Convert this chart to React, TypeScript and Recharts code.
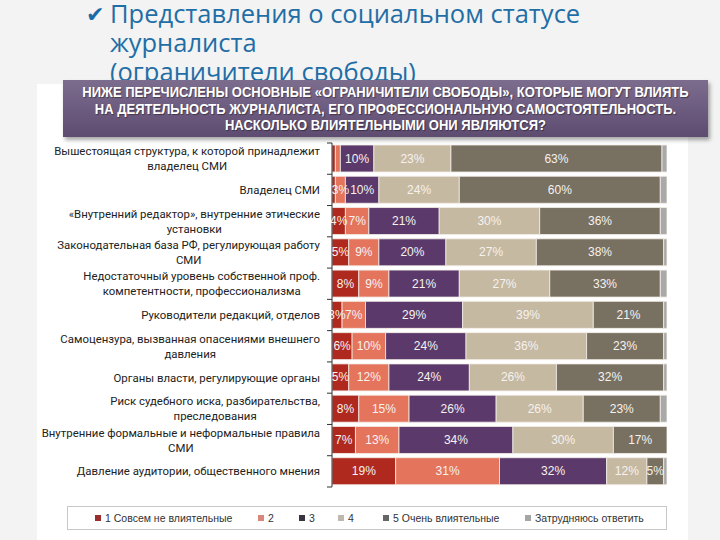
import React from 'react';
import { BarChart, Bar, XAxis, YAxis, LabelList, Legend } from 'recharts';

// Factors (y categories), two-line labels split with \n
const categories = [
  'Вышестоящая структура, к которой принадлежит\nвладелец СМИ',
  'Владелец СМИ',
  '«Внутренний редактор», внутренние этические\nустановки',
  'Законодательная база РФ, регулирующая работу\nСМИ',
  'Недостаточный уровень собственной проф.\nкомпетентности, профессионализма',
  'Руководители редакций, отделов',
  'Самоцензура, вызванная опасениями внешнего\nдавления',
  'Органы власти, регулирующие органы',
  'Риск судебного иска, разбирательства,\nпреследования',
  'Внутренние формальные и неформальные правила\nСМИ',
  'Давление аудитории, общественного мнения',
];

const seriesNames = [
  '1 Совсем не влиятельные',
  '2',
  '3',
  '4',
  '5 Очень влиятельные',
  'Затрудняюсь ответить',
];

// percentages per series, same order as categories
const s1 = [1, 1, 4, 5, 8, 3, 6, 5, 8, 7, 19];
const s2 = [1.5, 3, 7, 9, 9, 7, 10, 12, 15, 13, 31];
const s3 = [10, 10, 21, 20, 21, 29, 24, 24, 26, 34, 32];
const s4 = [23, 24, 30, 27, 27, 39, 36, 26, 26, 30, 12];
const s5 = [63, 60, 36, 38, 33, 21, 23, 32, 23, 17, 5];
const s6 = [1.5, 2, 2, 1, 2, 1, 1, 1, 2, 0, 1];

const BAR_COLORS = ['#b0291f', '#e5745d', '#5b3a6b', '#c5b9a2', '#787061', '#a9a9a9'];
const LEGEND_COLORS = ['#9b2d2d', '#d8877a', '#3a3440', '#bdb9b0', '#666666', '#a5a5a5'];
// x offset of each legend item inside the legend box
const LEGEND_X = [27, 190, 231, 270, 315, 457];

const W = 720;
const H = 540;
const PLOT_TOP = 143;
const PLOT_BOTTOM = 487;
const AXIS_X = 332;
const PLOT_RIGHT = 667;
const BAND = (PLOT_BOTTOM - PLOT_TOP) / categories.length;

const LABEL_SIZE = 11.4;
const LABEL_FONT = `${LABEL_SIZE}px Roboto`;
const LINE_H = 15;

let ctx: CanvasRenderingContext2D | null = null;
const measure = (s: string) => {
  if (!ctx) ctx = document.createElement('canvas').getContext('2d');
  if (!ctx) return s.length * 6;
  ctx.font = LABEL_FONT;
  return ctx.measureText(s).width;
};

const data = categories.map((name, i) => ({
  name,
  v1: s1[i],
  v2: s2[i],
  v3: s3[i],
  v4: s4[i],
  v5: s5[i],
  v6: s6[i],
}));

const CategoryTick = (props: any) => {
  const { x, y, payload, index } = props;
  const lines = String(payload.value).split('\n');
  const maxW = Math.max(...lines.map(measure));
  const cx = x - maxW / 2;
  const y0 = y - ((lines.length - 1) * LINE_H) / 2;
  return (
    <g>
      {lines.map((l, i) => (
        <text
          key={i}
          x={cx}
          y={y0 + i * LINE_H}
          textAnchor="middle"
          dominantBaseline="central"
          fontFamily="Roboto"
          fontSize={LABEL_SIZE}
          fill="#222"
        >
          {l}
        </text>
      ))}
      <line x1={x + 7} x2={x + 12} y1={y - BAND / 2} y2={y - BAND / 2} stroke="#333" />
      {index === categories.length - 1 && (
        <line x1={x + 7} x2={x + 12} y1={y + BAND / 2} y2={y + BAND / 2} stroke="#333" />
      )}
    </g>
  );
};

const SegmentLabel = (props: any) => {
  const { x, y, width, height, value } = props;
  if (value == null || value < 3) return null;
  return (
    <text
      x={x + width / 2}
      y={y + height / 2}
      textAnchor="middle"
      dominantBaseline="central"
      fontFamily="Liberation Sans, Arial, sans-serif"
      fontSize={12}
      fill="#f6f2ee"
    >
      {`${value}%`}
    </text>
  );
};

const LegendBox = () => (
  <div
    style={{
      position: 'relative',
      width: 600,
      height: 24,
      border: '1px solid #c8c8c8',
      boxSizing: 'border-box',
      fontFamily: 'Liberation Sans, Arial, sans-serif',
      fontSize: 10.5,
      color: '#333',
      background: '#fff',
      whiteSpace: 'nowrap',
    }}
  >
    {seriesNames.map((n, i) => (
      <span
        key={n}
        style={{
          position: 'absolute',
          left: LEGEND_X[i],
          top: 5,
          lineHeight: '12px',
          display: 'inline-flex',
          alignItems: 'center',
        }}
      >
        <span
          style={{
            width: 6,
            height: 6,
            background: LEGEND_COLORS[i],
            display: 'inline-block',
            marginRight: 4,
          }}
        />
        {n}
      </span>
    ))}
  </div>
);

export default function App() {
  return (
    <div
      style={{
        position: 'absolute',
        left: 0,
        top: 0,
        width: W,
        height: H,
        background: '#f3f3f3',
        overflow: 'hidden',
      }}
    >
      {/* title */}
      <div
        style={{
          position: 'absolute',
          left: 86,
          top: 1,
          fontFamily: 'DejaVu Sans',
          fontSize: 22,
          color: '#1a6aa8',
          lineHeight: '28px',
        }}
      >
        ✔
      </div>
      <div
        style={{
          position: 'absolute',
          left: 110,
          top: -1,
          fontFamily: 'Open Sans',
          fontSize: 25.5,
          color: '#1f6ea6',
          lineHeight: '29px',
          whiteSpace: 'nowrap',
        }}
      >
        Представления о социальном статусе
        <br />
        журналиста
        <br />
        (ограничители свободы)
      </div>

      {/* white panel */}
      <div
        style={{
          position: 'absolute',
          left: 37,
          top: 84,
          width: 651,
          height: 460,
          background: '#ffffff',
        }}
      />

      {/* banner */}
      <div
        style={{
          position: 'absolute',
          left: 63,
          top: 80,
          width: 645,
          height: 57,
          background: 'linear-gradient(#7c6c8e, #5d4c70)',
          boxShadow: '2px 3px 4px rgba(0,0,0,0.35)',
          overflow: 'hidden',
        }}
      >
        <div
          style={{
            position: 'absolute',
            left: -60,
            width: 765,
            top: 4,
            transform: 'scaleX(0.93)',
            transformOrigin: 'center',
            color: '#fff',
            fontFamily: 'Liberation Sans, Arial, sans-serif',
            fontWeight: 'bold',
            fontSize: 14,
            lineHeight: '16.5px',
            textAlign: 'center',
            whiteSpace: 'nowrap',
            textShadow: '1px 1px 1px rgba(0,0,0,0.4)',
          }}
        >
          НИЖЕ ПЕРЕЧИСЛЕНЫ ОСНОВНЫЕ «ОГРАНИЧИТЕЛИ СВОБОДЫ», КОТОРЫЕ МОГУТ ВЛИЯТЬ
          <br />
          НА ДЕЯТЕЛЬНОСТЬ ЖУРНАЛИСТА, ЕГО ПРОФЕССИОНАЛЬНУЮ САМОСТОЯТЕЛЬНОСТЬ.
          <br />
          НАСКОЛЬКО ВЛИЯТЕЛЬНЫМИ ОНИ ЯВЛЯЮТСЯ?
        </div>
      </div>

      <div style={{ position: 'absolute', left: 0, top: 0 }}>
        <BarChart
          width={W}
          height={H}
          data={data}
          layout="vertical"
          margin={{ top: PLOT_TOP, right: W - PLOT_RIGHT, bottom: H - PLOT_BOTTOM, left: 0 }}
          barSize={27}
        >
          <XAxis type="number" domain={[0, 100]} hide allowDataOverflow />
          <YAxis
            type="category"
            dataKey="name"
            width={AXIS_X}
            axisLine={{ stroke: '#333' }}
            tickLine={false}
            tickSize={0}
            tickMargin={12}
            tick={<CategoryTick />}
            interval={0}
          />
          {['v1', 'v2', 'v3', 'v4', 'v5', 'v6'].map((k, i) => (
            <Bar
              key={k}
              dataKey={k}
              name={seriesNames[i]}
              stackId="a"
              fill={BAR_COLORS[i]}
              stroke="#f4efe8"
              strokeWidth={0.8}
              isAnimationActive={false}
            >
              {i < 5 && <LabelList dataKey={k} content={<SegmentLabel />} />}
            </Bar>
          ))}
          <Legend
            layout="vertical"
            align="center"
            verticalAlign="middle"
            content={<LegendBox />}
            wrapperStyle={{ left: 67, top: 506, width: 600 }}
          />
        </BarChart>
      </div>
    </div>
  );
}
